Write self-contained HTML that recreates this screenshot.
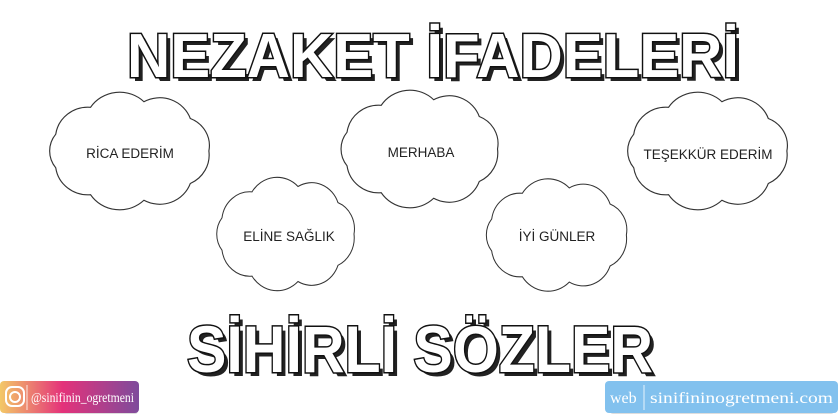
<!DOCTYPE html>
<html><head><meta charset="utf-8"><style>
html,body{margin:0;padding:0;background:#fff;}
body{width:840px;height:420px;overflow:hidden;position:relative;font-family:"Liberation Sans",sans-serif;}
</style></head><body>
<svg width="840" height="420" viewBox="0 0 840 420" xmlns="http://www.w3.org/2000/svg" style="position:absolute;left:0;top:0">
<defs>
<path id="cl" d="M68,0 A28,28 0 0 1 52,29 A28,28 0 0 1 12,44 A30,30 0 0 1 -34,39 A28,28 0 0 1 -64,15 A24,24 0 0 1 -64,-15 A28,28 0 0 1 -34,-39 A30,30 0 0 1 12,-44 A28,28 0 0 1 52,-29 A26,26 0 0 1 68,0 Z" fill="#fff" stroke="#333" stroke-width="1"/>
<linearGradient id="ig" x1="0" x2="1" y1="0" y2="0">
<stop offset="0" stop-color="#f3c867"/><stop offset="0.45" stop-color="#e4327a"/><stop offset="1" stop-color="#7e4b9c"/>
</linearGradient>
</defs>
<g font-family="Liberation Sans, sans-serif" font-weight="bold" font-size="62" text-anchor="middle">
<text x="437" y="81" textLength="612" lengthAdjust="spacingAndGlyphs" fill="#222">NEZAKET İFADELERİ</text>
<text x="433" y="77" textLength="612" lengthAdjust="spacingAndGlyphs" fill="#fff" stroke="#111" stroke-width="3" paint-order="stroke">NEZAKET İFADELERİ</text>
<text x="424" y="376" textLength="466" lengthAdjust="spacingAndGlyphs" font-size="66" fill="#222">SİHİRLİ SÖZLER</text>
<text x="420" y="372" textLength="466" lengthAdjust="spacingAndGlyphs" font-size="66" fill="#fff" stroke="#111" stroke-width="3" paint-order="stroke">SİHİRLİ SÖZLER</text>
</g>
<use href="#cl" transform="translate(130,151) scale(1.16,1.12)"/>
<use href="#cl" transform="translate(420,149) scale(1.14,1.12)"/>
<use href="#cl" transform="translate(708,151) scale(1.16,1.12)"/>
<use href="#cl" transform="translate(286,234) scale(1.0,1.08)"/>
<use href="#cl" transform="translate(557,235) scale(1.02,1.07)"/>
<g font-family="Liberation Sans, sans-serif" font-size="13.5" fill="#222" text-anchor="middle">
<text x="130" y="158">RİCA EDERİM</text>
<text x="421" y="157">MERHABA</text>
<text x="708" y="159">TEŞEKKÜR EDERİM</text>
<text x="289" y="241">ELİNE SAĞLIK</text>
<text x="557" y="241">İYİ GÜNLER</text>
</g>
<rect x="4" y="384" width="134" height="30" fill="#ddd" rx="3"/>
<rect x="0" y="381" width="139" height="32" rx="4" fill="url(#ig)"/>
<rect x="6" y="387" width="18" height="19" rx="6" fill="none" stroke="#fff" stroke-width="2"/>
<circle cx="15" cy="397" r="5" fill="none" stroke="#fff" stroke-width="2"/>
<line x1="27" y1="385" x2="27" y2="410" stroke="#fff" stroke-width="0.8"/>
<text x="31" y="402" font-family="Liberation Serif, serif" font-size="14" fill="#fff" textLength="103" lengthAdjust="spacingAndGlyphs">@sinifinin_ogretmeni</text>
<rect x="610" y="384" width="224" height="30" fill="#ddd" rx="3"/>
<rect x="605" y="381" width="233" height="32" rx="4" fill="#82c1ee"/>
<text x="610" y="403" font-family="Liberation Serif, serif" font-size="16" fill="#fff">web</text>
<line x1="644" y1="385" x2="644" y2="410" stroke="#fff" stroke-width="0.8"/>
<text x="650" y="403" font-family="Liberation Serif, serif" font-size="16" fill="#fff" textLength="183" lengthAdjust="spacingAndGlyphs">sinifininogretmeni.com</text>
</svg>
</body></html>
